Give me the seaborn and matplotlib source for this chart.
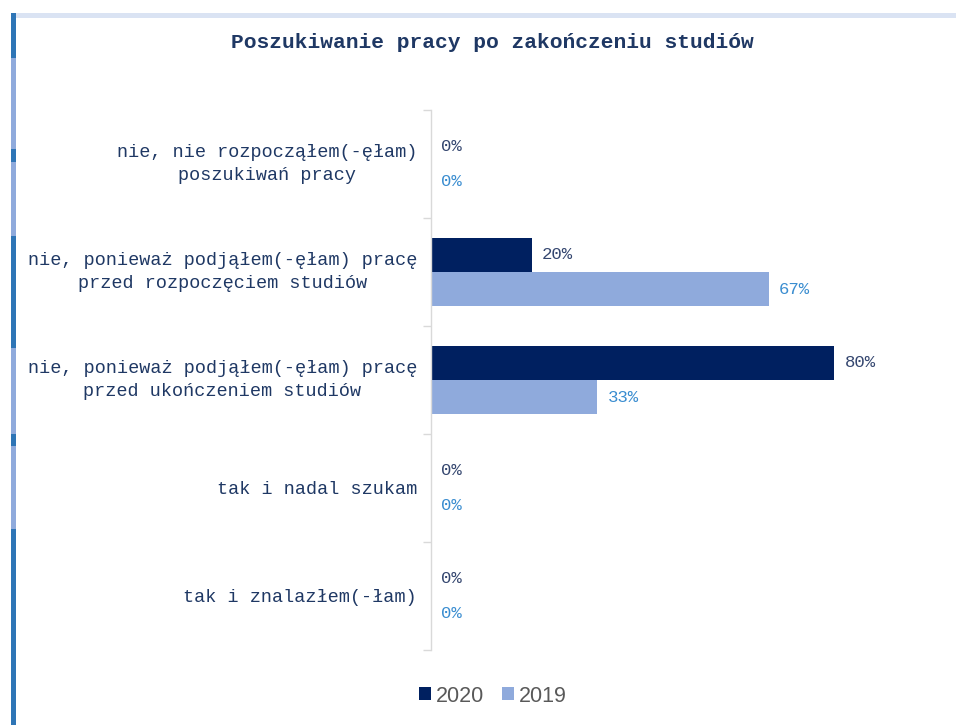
import matplotlib
matplotlib.use("Agg")
import matplotlib.pyplot as plt
import matplotlib.transforms as mtrans
from matplotlib.patches import Rectangle, Patch
import seaborn as sns
import pandas as pd

categories = [
    "nie, nie rozpocząłem(-ęłam)\nposzukiwań pracy",
    "nie, ponieważ podjąłem(-ęłam) pracę\nprzed rozpoczęciem studiów",
    "nie, ponieważ podjąłem(-ęłam) pracę\nprzed ukończeniem studiów",
    "tak i nadal szukam",
    "tak i znalazłem(-łam)",
]
series = ["2020", "2019"]
values_2020 = [0.00, 0.20, 0.80, 0.00, 0.00]
values_2019 = [0.00, 0.67, 0.33, 0.00, 0.00]
title = "Poszukiwanie pracy po zakończeniu studiów"

colors = {"2020": "#002060", "2019": "#8FAADC"}
label_colors = {"2020": "#34466F", "2019": "#3A8DD0"}

df = pd.DataFrame({
    "category": categories * 2,
    "year": ["2020"] * len(categories) + ["2019"] * len(categories),
    "value": values_2020 + values_2019,
})

sns.set_theme(style="white")
plt.rcParams["font.family"] = ["Liberation Mono", "DejaVu Sans Mono"]

W, H = 956, 725
fig = plt.figure(figsize=(W / 100, H / 100), dpi=100)

def px(x0, y0, x1, y1):
    return (x0 / W, 1 - y1 / H, (x1 - x0) / W, (y1 - y0) / H)

ax = fig.add_axes(px(431, 110, 935, 650))
sns.barplot(data=df, y="category", x="value", hue="year", hue_order=series,
            order=categories, palette=colors, orient="h", width=0.63,
            linewidth=0, ax=ax, legend=False, saturation=1)

ax.set_xlim(0, 1)
ax.set_ylim(4.5, -0.5)
ax.set_xlabel("")
ax.set_ylabel("")
ax.xaxis.set_visible(False)
for s in ["top", "right", "bottom"]:
    ax.spines[s].set_visible(False)
ax.spines["left"].set_color("#D9D9D9")
ax.spines["left"].set_linewidth(1.0)

ax.set_yticks(range(len(categories)))
ax.set_yticklabels(categories, fontsize=13.3, color="#1F3864",
                   multialignment="center", linespacing=1.5)
ax.tick_params(axis="y", which="major", length=0, pad=10)
ax.set_yticks([i - 0.5 for i in range(len(categories) + 1)], minor=True)
ax.tick_params(axis="y", which="minor", length=6, color="#D9D9D9", width=1, direction="out")
ax.yaxis.set_tick_params(which="minor", left=True)

# nudge multi-line labels up slightly
shift = mtrans.ScaledTranslation(0, 5 / 100, fig.dpi_scale_trans)
for lbl in ax.get_yticklabels():
    if "\n" in lbl.get_text():
        lbl.set_transform(lbl.get_transform() + shift)

for cont, yr in zip(ax.containers, series):
    vals = values_2020 if yr == "2020" else values_2019
    ax.bar_label(cont, labels=[f"{v * 100:.0f}%" for v in vals], padding=7.5,
                 fontsize=12.5, color=label_colors[yr])

fig.text(492 / W, 1 - 42 / H, title, ha="center", va="center",
         fontsize=15.3, fontweight="bold", color="#1F3864")

handles = [Patch(facecolor=colors[s], edgecolor="none", label=s) for s in series]
fig.legend(handles=handles, loc="center", bbox_to_anchor=(493 / W, 1 - 696 / H),
           ncol=2, frameon=False, handlelength=0.55, handleheight=0.55,
           handletextpad=0.25, columnspacing=0.8, borderpad=0.2,
           prop={"family": "Liberation Sans", "size": 15.5}, labelcolor="#595959")

# decorative borders
r = px(16, 13, 956, 18)
fig.add_artist(Rectangle(r[:2], r[2], r[3], transform=fig.transFigure,
                         facecolor="#DAE3F3", edgecolor="none"))
segments = [(13, 58, "#2E75B6"), (58, 149, "#8FAADC"), (149, 162, "#2E75B6"),
            (162, 236, "#8FAADC"), (236, 348, "#2E75B6"), (348, 434, "#8FAADC"),
            (434, 446, "#2E75B6"), (446, 529, "#8FAADC"), (529, 725, "#2E75B6")]
for y0, y1, c in segments:
    r = px(11, y0, 16, y1)
    fig.add_artist(Rectangle(r[:2], r[2], r[3], transform=fig.transFigure,
                             facecolor=c, edgecolor="none"))

fig.savefig("out.png", dpi=100)
